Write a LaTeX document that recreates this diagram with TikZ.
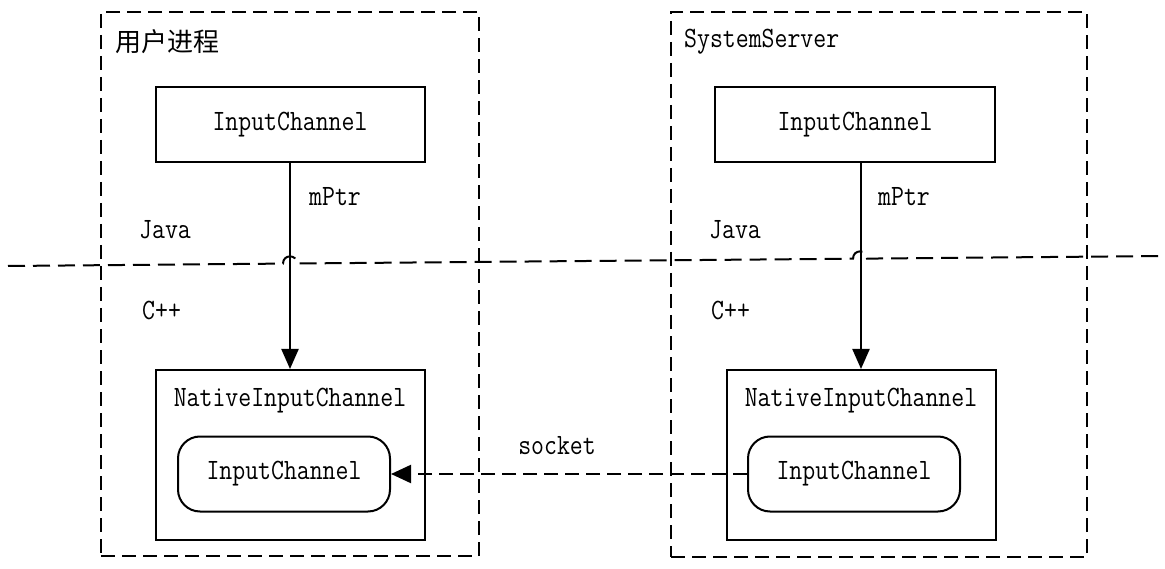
\documentclass[tikz,border=0pt]{standalone}
\usepackage{fontspec}
\setmonofont[FakeStretch=0.85]{Latin Modern Mono}
\newfontfamily\cjk{Noto Sans CJK SC}
\usepackage{tikz}
\usetikzlibrary{arrows.meta,positioning}
\tikzstyle{line} = [draw, line width=2.2pt, -{Triangle[length=20pt,width=17pt]}]
\tikzstyle{sockline} = [draw, line width=2.2pt, dash pattern=on 14pt off 7pt, -{Triangle[length=20pt,width=18pt]}]
\tikzstyle{procbox} = [rectangle, draw, line width=2pt, dash pattern=on 14pt off 7pt]
\tikzstyle{divider} = [draw, line width=2pt, dash pattern=on 17pt off 8pt]
\tikzstyle{javabox} = [rectangle, draw, line width=2pt, minimum height=75pt, text centered]
\tikzstyle{nativebox} = [rectangle, draw, line width=2pt, minimum height=170pt, minimum width=269pt]
\tikzstyle{inner} = [rectangle, draw, line width=2pt, rounded corners=22pt, minimum width=212pt, minimum height=75pt]
\tikzstyle{tag} = [anchor=west, inner sep=0pt]

\begin{document}
\begin{tikzpicture}[x=1pt, y=-1pt, every node/.style={font=\ttfamily\fontsize{29.5}{29.5}\selectfont}]
	\useasboundingbox (0,0) rectangle (1165,569);
	
	% process frames
	\node [procbox, minimum width=378pt, minimum height=544pt] (userproc) at (290,284) {};
	\node [procbox, minimum width=416pt, minimum height=545pt] (sysproc) at (879,284.5) {};
	\node [tag, font=\cjk\fontsize{26}{26}\selectfont] (usertitle) at (115,42) {用户进程};
	\node [tag] (systitle) at (684,42) {SystemServer};
	
	% java side
	\node [javabox, minimum width=269pt] (jicL) at (290,124.5) {InputChannel};
	\node [javabox, minimum width=280pt] (jicR) at (855,124.5) {InputChannel};
	
	% native side
	\node [nativebox] (nicL) at (290,455) {};
	\node [nativebox] (nicR) at (861,455) {};
	\node [below=19pt of nicL.north, inner sep=0pt] (nicLtxt) {NativeInputChannel};
	\node [below=19pt of nicR.north, inner sep=0pt] (nicRtxt) {NativeInputChannel};
	\node [inner] (icL) at (284,474) {InputChannel};
	\node [inner] (icR) at (854,474) {InputChannel};
	
	% layer divider with jumps
	\coordinate (dvA) at (8,266);
	\coordinate (dvB) at (1165,256);
	\path [divider] (dvA) -- (283,263.6) .. controls (283,254) and (297,254) .. (297,263.5)
		-- (853,258.7) .. controls (853,249) and (867,249) .. (867,258.6) -- (dvB);
	\node [tag] (javaL) at (139,230) {Java};
	\node [tag] (javaR) at (709,230) {Java};
	\node [tag] (cppL) at (142,310) {C++};
	\node [tag] (cppR) at (711,310) {C++};
	
	% mPtr links
	\path [line] (nicL.north |- jicL.south) to (nicL.north);
	\path [line] (nicR.north |- jicR.south) to (nicR.north);
	\node [tag] (mptrL) at (309,197) {mPtr};
	\node [tag] (mptrR) at (878,197) {mPtr};
	
	% socket
	\path [sockline] (icR.west) to (icL.east);
	\node (sock) at (557,446) {socket};
	
	\end{tikzpicture}
\end{document}
